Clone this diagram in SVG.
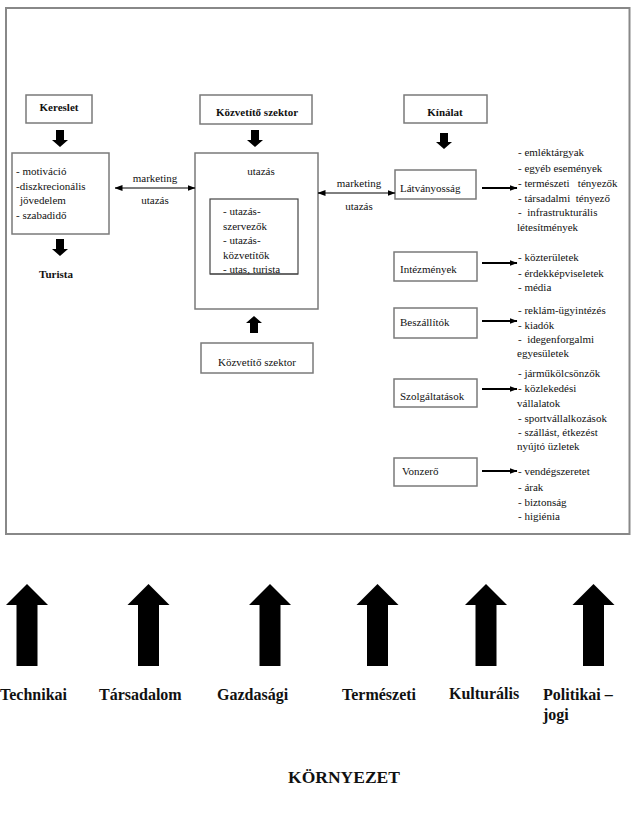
<svg xmlns="http://www.w3.org/2000/svg" width="633" height="819" viewBox="0 0 633 819">
<style>
text{font-family:"Liberation Serif","Times New Roman",serif;fill:#111;}
.s{font-size:11px;}
.b{font-size:11px;font-weight:bold;}
.L{font-size:16px;font-weight:bold;}
.box{fill:#fff;stroke:#7a7a7a;stroke-width:1.5;}
.ibox{fill:#fff;stroke:#444;stroke-width:1.2;}
.blk{fill:#000;}
.thin{stroke:#000;stroke-width:1;fill:none;}
.thick{stroke:#000;stroke-width:2;fill:none;}
</style>
<defs>
<marker id="ah" viewBox="0 0 8 6" refX="7.5" refY="3" markerWidth="8" markerHeight="6" markerUnits="userSpaceOnUse" orient="auto-start-reverse">
<path d="M0,0 L8,3 L0,6 Z" fill="#000"/>
</marker>
</defs>
<rect x="0" y="0" width="633" height="819" fill="#fff"/>
<rect id="frame" x="6" y="8" width="623.5" height="526" fill="none" stroke="#888" stroke-width="2"/>

<g id="kereslet"><rect class="box" x="26" y="95" width="66" height="28"/><text class="b" x="59" y="111" text-anchor="middle">Kereslet</text></g>
<g id="kozvetito-top"><rect class="box" x="200" y="95" width="112" height="29"/><text class="b" x="257" y="116" text-anchor="middle">Közvetítő szektor</text></g>
<g id="kinalat"><rect class="box" x="404" y="95" width="83" height="28"/><text class="b" x="445" y="116" text-anchor="middle">Kínálat</text></g>

<g id="kereslet-box"><rect class="box" x="12" y="153" width="97" height="81"/>
<text class="s" x="16" y="175">- motiváció</text>
<text class="s" x="16" y="190">-diszkrecionális</text>
<text class="s" x="20" y="204">jövedelem</text>
<text class="s" x="16" y="219">- szabadidő</text></g>
<g id="turista"><text class="b" x="56" y="278" text-anchor="middle">Turista</text></g>

<g id="utazas-box"><rect class="box" x="195" y="153" width="123" height="156"/>
<text class="s" x="261" y="175" text-anchor="middle">utazás</text></g>
<g id="inner-box"><rect class="ibox" x="210" y="199" width="88" height="75"/>
<text class="s" x="223" y="215">- utazás-</text>
<text class="s" x="223" y="230">szervezők</text>
<text class="s" x="223" y="244">- utazás-</text>
<text class="s" x="223" y="259">közvetítők</text>
<text class="s" x="223" y="273">- utas, turista</text>
<line x1="210" y1="274" x2="298" y2="274" stroke="#444" stroke-width="1.2"/></g>
<g id="kozvetito-bottom"><rect class="box" x="201" y="343" width="112" height="30"/><text class="s" x="257" y="366" text-anchor="middle">Közvetítő szektor</text></g>

<g id="latvanyossag"><rect class="box" x="395" y="170" width="81" height="29"/><text class="s" x="400" y="192">Látványosság</text></g>
<g id="intezmenyek"><rect class="box" x="394" y="252" width="83" height="29"/><text class="s" x="400" y="273">Intézmények</text></g>
<g id="beszallitok"><rect class="box" x="394" y="308" width="83" height="30"/><text class="s" x="400" y="326">Beszállítók</text></g>
<g id="szolgaltatasok"><rect class="box" x="394" y="379" width="83" height="28"/><text class="s" x="400" y="400">Szolgáltatások</text></g>
<g id="vonzero"><rect class="box" x="394" y="458" width="83" height="28"/><text class="s" x="402" y="475">Vonzerő</text></g>

<g id="lists">
<text class="s" x="518" y="156">- emléktárgyak</text>
<text class="s" x="518" y="172">- egyéb események</text>
<text class="s" x="518" y="187" xml:space="preserve">- természeti   tényezők</text>
<text class="s" x="518" y="202" xml:space="preserve">- társadalmi  tényező</text>
<text class="s" x="518" y="216" xml:space="preserve">-  infrastrukturális</text>
<text class="s" x="517" y="231">létesítmények</text>
<text class="s" x="518" y="261">- közterületek</text>
<text class="s" x="518" y="277">- érdekképviseletek</text>
<text class="s" x="518" y="291">- média</text>
<text class="s" x="518" y="314">- reklám-ügyintézés</text>
<text class="s" x="518" y="329">- kiadók</text>
<text class="s" x="518" y="343" xml:space="preserve">-  idegenforgalmi</text>
<text class="s" x="517" y="357">egyesületek</text>
<text class="s" x="518" y="377">- járműkölcsönzők</text>
<text class="s" x="518" y="392">- közlekedési</text>
<text class="s" x="517" y="407">vállalatok</text>
<text class="s" x="518" y="422">- sportvállalkozások</text>
<text class="s" x="518" y="436">- szállást, étkezést</text>
<text class="s" x="517" y="450">nyújtó üzletek</text>
<text class="s" x="518" y="475">- vendégszeretet</text>
<text class="s" x="518" y="491">- árak</text>
<text class="s" x="518" y="506">- biztonság</text>
<text class="s" x="518" y="520">- higiénia</text>
</g>

<g id="connectors">
<line class="thin" x1="115" y1="188" x2="195" y2="188" marker-start="url(#ah)" marker-end="url(#ah)"/>
<text class="s" x="155" y="182" text-anchor="middle">marketing</text>
<text class="s" x="155" y="204" text-anchor="middle">utazás</text>
<line class="thin" x1="318" y1="193" x2="395" y2="193" marker-start="url(#ah)" marker-end="url(#ah)"/>
<text class="s" x="359" y="187" text-anchor="middle">marketing</text>
<text class="s" x="359" y="210" text-anchor="middle">utazás</text>
<line class="thick" x1="482" y1="188" x2="517" y2="188" marker-end="url(#ah)"/>
<line class="thick" x1="482" y1="263" x2="517" y2="263" marker-end="url(#ah)"/>
<line class="thick" x1="482" y1="321" x2="517" y2="321" marker-end="url(#ah)"/>
<line class="thick" x1="482" y1="389" x2="517" y2="389" marker-end="url(#ah)"/>
<line class="thick" x1="482" y1="471" x2="517" y2="471" marker-end="url(#ah)"/>
<path class="blk" d="M56,130 H64 V140 H68 L60,147 L52,140 H56 Z"/>
<path class="blk" d="M56,239 H64 V249 H68 L60,256 L52,249 H56 Z"/>
<path class="blk" d="M251,130 H259 V140 H263 L255,147 L247,140 H251 Z"/>
<path class="blk" d="M440,133 H448 V142 H452 L444,149 L436,142 H440 Z"/>
<path class="blk" d="M250,333 H258 V323 H262 L254,316 L246,323 H250 Z"/>
</g>

<g id="env-arrows">
<path class="blk" d="M16.5,666 V605 H6 L27,584 L48,605 H37.5 V666 Z"/>
<path class="blk" d="M138,666 V605 H127.5 L148.5,584 L169.5,605 H159 V666 Z"/>
<path class="blk" d="M259.5,666 V605 H249 L270,584 L291,605 H280.5 V666 Z"/>
<path class="blk" d="M367,666 V605 H356.5 L377.5,584 L398.5,605 H388 V666 Z"/>
<path class="blk" d="M475.5,666 V605 H465 L486,584 L507,605 H496.5 V666 Z"/>
<path class="blk" d="M583,666 V605 H572.5 L593.5,584 L614.5,605 H604 V666 Z"/>
</g>
<g id="env-labels">
<text class="L" x="0" y="700">Technikai</text>
<text class="L" x="99" y="700">Társadalom</text>
<text class="L" x="217" y="700">Gazdasági</text>
<text class="L" x="342" y="700">Természeti</text>
<text class="L" x="449" y="699">Kulturális</text>
<text class="L" x="543" y="700">Politikai –</text>
<text class="L" x="543" y="720">jogi</text>
<text x="344" y="783" text-anchor="middle" style="font-size:17.5px;font-weight:bold">KÖRNYEZET</text>
</g>
</svg>
